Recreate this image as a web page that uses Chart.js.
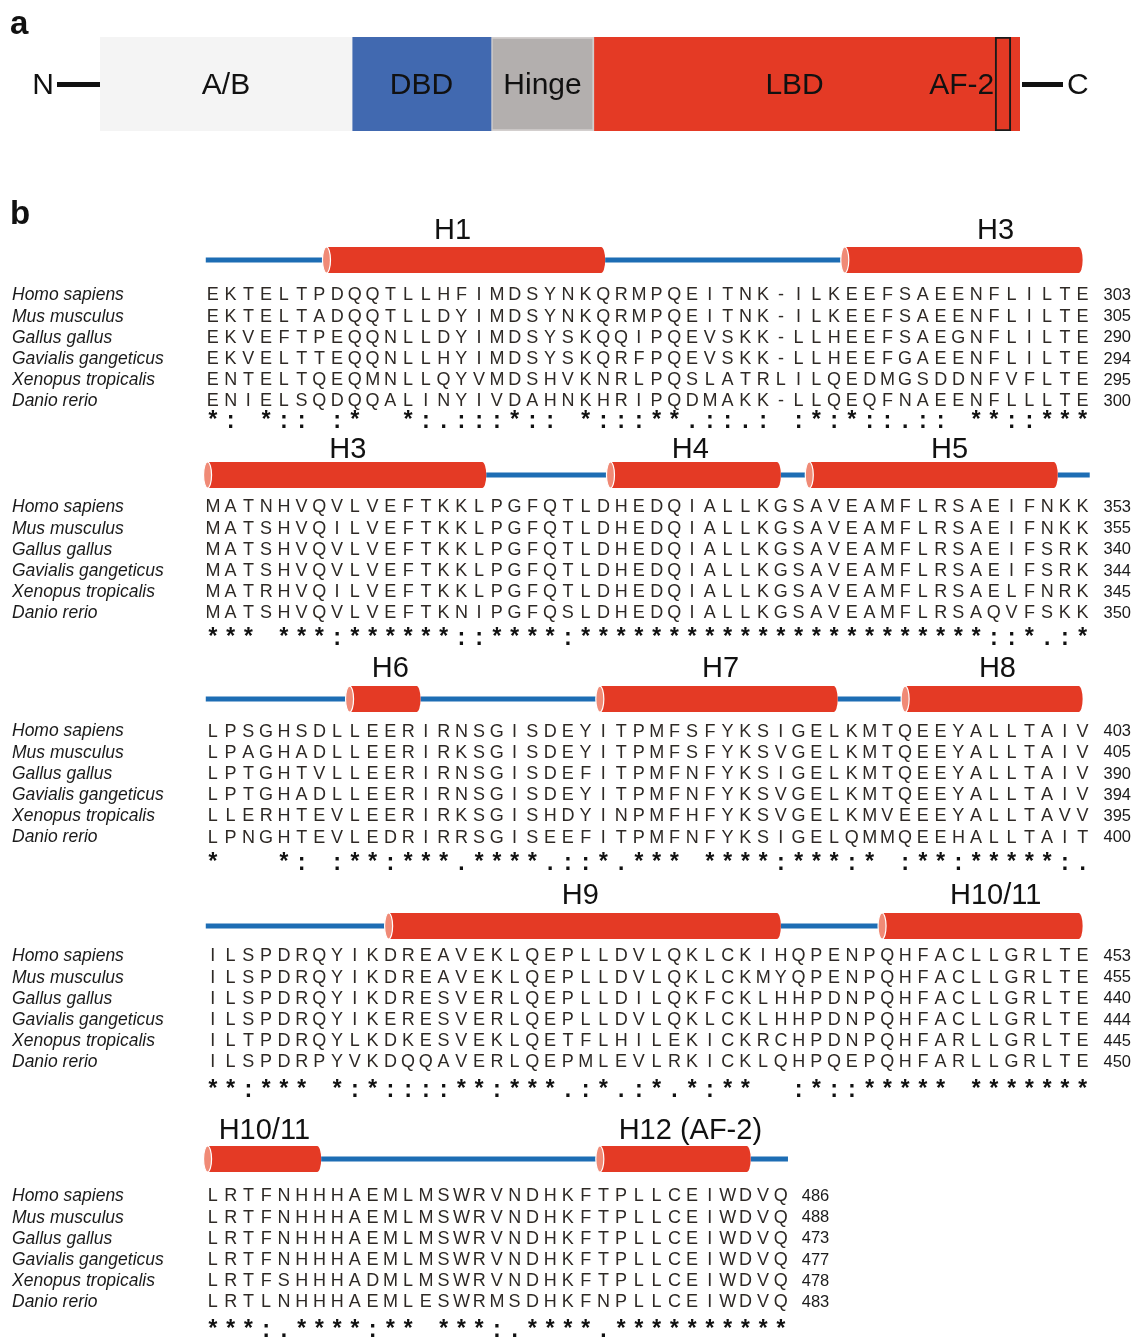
<!DOCTYPE html>
<html><head><meta charset="utf-8">
<script src="https://cdn.jsdelivr.net/npm/chart.js@4.4.1/dist/chart.umd.min.js"></script>
<style>
html,body{margin:0;padding:0;background:#fff;}
#wrap{position:relative;width:1134px;height:1337px;overflow:hidden;background:#fff;}
#ca{position:absolute;left:0;top:0;}
#cb{position:absolute;left:0;top:160px;}
</style></head><body>
<div id="wrap"><canvas id="ca" width="1134" height="160"></canvas><canvas id="cb" width="1134" height="1177"></canvas></div>
<script>
// ---------------- DATA ----------------
// Panel a: domain architecture (arbitrary 0-100 units along the protein)
const domainNames = ['A/B', 'DBD', 'Hinge', 'LBD', 'AF-2'];
const domainStart = [0, 27.4, 42.5, 53.7, 97.3];
const domainEnd   = [27.4, 42.5, 53.7, 100, 99.0];

// Panel b: alignment
const species = ['Homo sapiens', 'Mus musculus', 'Gallus gallus', 'Gavialis gangeticus', 'Xenopus tropicalis', 'Danio rerio'];

const seqBlock1 = [
  'EKTELTPDQQTLLHFIMDSYNKQRMPQEITNK-ILKEEFSAEENFLILTE',
  'EKTELTADQQTLLDYIMDSYNKQRMPQEITNK-ILKEEFSAEENFLILTE',
  'EKVEFTPEQQNLLDYIMDSYSKQQIPQEVSKK-LLHEEFSAEGNFLILTE',
  'EKVELTTEQQNLLHYIMDSYSKQRFPQEVSKK-LLHEEFGAEENFLILTE',
  'ENTELTQEQMNLLQYVMDSHVKNRLPQSLATRLILQEDMGSDDNFVFLTE',
  'ENIELSQDQQALINYIVDAHNKHRIPQDMAKK-LLQEQFNAEENFLLLTE'];
const seqBlock2 = [
  'MATNHVQVLVEFTKKLPGFQTLDHEDQIALLKGSAVEAMFLRSAEIFNKK',
  'MATSHVQILVEFTKKLPGFQTLDHEDQIALLKGSAVEAMFLRSAEIFNKK',
  'MATSHVQVLVEFTKKLPGFQTLDHEDQIALLKGSAVEAMFLRSAEIFSRK',
  'MATSHVQVLVEFTKKLPGFQTLDHEDQIALLKGSAVEAMFLRSAEIFSRK',
  'MATRHVQILVEFTKKLPGFQTLDHEDQIALLKGSAVEAMFLRSAELFNRK',
  'MATSHVQVLVEFTKNIPGFQSLDHEDQIALLKGSAVEAMFLRSAQVFSKK'];
const seqBlock3 = [
  'LPSGHSDLLEERIRNSGISDEYITPMFSFYKSIGELKMTQEEYALLTAIV',
  'LPAGHADLLEERIRKSGISDEYITPMFSFYKSVGELKMTQEEYALLTAIV',
  'LPTGHTVLLEERIRNSGISDEFITPMFNFYKSIGELKMTQEEYALLTAIV',
  'LPTGHADLLEERIRNSGISDEYITPMFNFYKSVGELKMTQEEYALLTAIV',
  'LLERHTEVLEERIRKSGISHDYINPMFHFYKSVGELKMVEEEYALLTAVV',
  'LPNGHTEVLEDRIRRSGISEEFITPMFNFYKSIGELQMMQEEHALLTAIT'];
const seqBlock4 = [
  'ILSPDRQYIKDREAVEKLQEPLLDVLQKLCKIHQPENPQHFACLLGRLTE',
  'ILSPDRQYIKDREAVEKLQEPLLDVLQKLCKMYQPENPQHFACLLGRLTE',
  'ILSPDRQYIKDRESVERLQEPLLDILQKFCKLHHPDNPQHFACLLGRLTE',
  'ILSPDRQYIKERESVERLQEPLLDVLQKLCKLHHPDNPQHFACLLGRLTE',
  'ILTPDRQYLKDKESVEKLQETFLHILEKICKRCHPDNPQHFARLLGRLTE',
  'ILSPDRPYVKDQQAVERLQEPMLEVLRKICKLQHPQEPQHFARLLGRLTE'];
const seqBlock5 = [
  'LRTFNHHHAEMLMSWRVNDHKFTPLLCEIWDVQ',
  'LRTFNHHHAEMLMSWRVNDHKFTPLLCEIWDVQ',
  'LRTFNHHHAEMLMSWRVNDHKFTPLLCEIWDVQ',
  'LRTFNHHHAEMLMSWRVNDHKFTPLLCEIWDVQ',
  'LRTFSHHHADMLMSWRVNDHKFTPLLCEIWDVQ',
  'LRTLNHHHAEMLESWRMSDHKFNPLLCEIWDVQ'];

const endBlock1 = [303, 305, 290, 294, 295, 300];
const endBlock2 = [353, 355, 340, 344, 345, 350];
const endBlock3 = [403, 405, 390, 394, 395, 400];
const endBlock4 = [453, 455, 440, 444, 445, 450];
const endBlock5 = [486, 488, 473, 477, 478, 483];

const consBlock1 = '*: *:: :*  *:.:::*:: *:::**.::.: :*:*::.:: **::***';
const consBlock2 = '*** ***:******::****:***********************::*.:*';
const consBlock3 = '*   *: :**:***.****.::*.*** ****:***:* :**:*****:.';
const consBlock4 = '**:*** *:*::::**:***.:*.:*.*:**  :*::***** *******';
const consBlock5 = '***:.****:** ***:.****.**********';

// secondary structure, in alignment columns (0 = left edge of first column)
const helixBlock1 = [['H1', 6.9, 22.6], ['H3', 36.1, 49.5]];
const helixBlock2 = [['H3', 0.2, 15.9], ['H4', 22.9, 32.5], ['H5', 34.1, 48.1]];
const helixBlock3 = [['H6', 8.2, 12.2], ['H7', 22.3, 35.7], ['H8', 39.5, 49.5]];
const helixBlock4 = [['H9', 10.4, 32.5], ['H10/11', 38.2, 49.5]];
const helixBlock5 = [['H10/11', 0.2, 6.6], ['H12 (AF-2)', 22.3, 30.8]];

const loopBlock1 = [[0.1, 7.0], [22.6, 36.1]];
const loopBlock2 = [[15.9, 22.9], [32.5, 34.1], [48.1, 49.9]];
const loopBlock3 = [[0.1, 8.2], [12.2, 22.3], [35.7, 39.5]];
const loopBlock4 = [[0.1, 10.4], [32.5, 38.2]];
const loopBlock5 = [[6.6, 22.3], [30.8, 32.9]];

// ---------------- LAYOUT / STYLE ----------------
const SEQS = [seqBlock1, seqBlock2, seqBlock3, seqBlock4, seqBlock5];
const ENDS = [endBlock1, endBlock2, endBlock3, endBlock4, endBlock5];
const CONS = [consBlock1, consBlock2, consBlock3, consBlock4, consBlock5];
const HELICES = [helixBlock1, helixBlock2, helixBlock3, helixBlock4, helixBlock5];
const LOOPS = [loopBlock1, loopBlock2, loopBlock3, loopBlock4, loopBlock5];

const L = {
  rowPx: 21.2,
  blockTop: [0, 10.0, 20.57, 31.18, 42.5],
  helixDy: [-34, -31, -31, -29, -36],
  labelDy: [-64, -57, -62, -60, -65],
  consDy: [122, 127, 128, 130, 130],
  labelX: [[14.0, 44.6], [8.1, 27.4, 42.0], [10.5, 29.1, 44.7], [21.2, 44.6], [3.4, 27.4]]
};
const RED = '#e43a25';
const BLUE = '#1d6db4';
const domainFill = ['#f4f4f4', '#4169b0', '#b3afae', RED, RED];
const domainBorder = ['#f4f4f4', '#4169b0', '#d3cfce', RED, '#1a1a1a'];
const domainBorderW = [0, 0, 2, 0, 2];

// ---------------- PANEL A ----------------
const pluginA = {
  id: 'pa',
  afterDatasetsDraw(chart) {
    const ctx = chart.ctx, xs = chart.scales.x, ys = chart.scales.y;
    const yc = ys.getPixelForValue(0);
    ctx.save();
    ctx.fillStyle = '#111';
    ctx.textBaseline = 'middle';
    ctx.font = '30px "Liberation Sans", Arial, sans-serif';
    ctx.textAlign = 'center';
    for (let i = 0; i < 3; i++) {
      const cx = (xs.getPixelForValue(domainStart[i]) + xs.getPixelForValue(domainEnd[i])) / 2;
      ctx.fillText(domainNames[i], cx, yc + 2);
    }
    const lbdC = (xs.getPixelForValue(domainStart[3]) + xs.getPixelForValue(domainStart[4])) / 2;
    ctx.fillText(domainNames[3], lbdC, yc + 2);
    ctx.textAlign = 'right';
    ctx.fillText(domainNames[4], xs.getPixelForValue(domainStart[4]) - 1, yc + 2);
    // termini
    const x0 = xs.getPixelForValue(0), x1 = xs.getPixelForValue(100);
    ctx.fillStyle = '#111';
    ctx.fillRect(x0 - 43, yc - 2, 43, 5);
    ctx.fillRect(x1 + 2, yc - 2, 41, 5);
    ctx.textAlign = 'right';
    ctx.fillText('N', x0 - 46, yc + 2);
    ctx.textAlign = 'left';
    ctx.fillText('C', x1 + 47, yc + 2);
    ctx.font = 'bold 33px "Liberation Sans", Arial, sans-serif';
    ctx.textBaseline = 'alphabetic';
    ctx.fillText('a', 10, 34);
    ctx.restore();
  }
};

const dsA = domainNames.map((n, i) => ({
  label: n,
  data: [[domainStart[i], domainEnd[i]]],
  backgroundColor: domainFill[i],
  borderColor: domainBorder[i],
  borderWidth: domainBorderW[i],
  borderSkipped: false,
  barThickness: 94,
  grouped: false,
  order: i === 4 ? -1 : 0
}));

new Chart(document.getElementById('ca'), {
  type: 'bar',
  data: { labels: ['FXR'], datasets: dsA },
  options: {
    indexAxis: 'y', responsive: false, animation: false, events: [],
    layout: { padding: { left: 100, right: 114, top: 37, bottom: 29 } },
    plugins: { legend: { display: false }, tooltip: { enabled: false } },
    scales: {
      x: { type: 'linear', min: 0, max: 100, display: false },
      y: { type: 'category', display: false }
    }
  },
  plugins: [pluginA]
});

// ---------------- PANEL B ----------------
const dsB = [];
LOOPS.forEach((loops, b) => {
  const yv = L.blockTop[b] + L.helixDy[b] / L.rowPx;
  loops.forEach(([s, e]) => {
    dsB.push({ kind: 'loop', data: [{ x: s, y: yv }, { x: e, y: yv }], showLine: true,
      borderColor: BLUE, borderWidth: 5, pointRadius: 0, borderCapStyle: 'butt', fill: false });
  });
});
SEQS.forEach((rows, b) => {
  rows.forEach((str, r) => {
    dsB.push({ kind: 'seq', block: b, row: r,
      data: [...str].map((ch, c) => ({ x: c + 0.5, y: L.blockTop[b] + r, ch })),
      pointRadius: 0, showLine: false });
  });
  dsB.push({ kind: 'cons', block: b,
    data: [...CONS[b]].map((ch, c) => ({ x: c + 0.5, y: L.blockTop[b] + L.consDy[b] / L.rowPx, ch })),
    pointRadius: 0, showLine: false });
});

function drawCylinder(ctx, x1, x2, yc, h) {
  const r = h / 2, cw = 4;
  ctx.save();
  ctx.fillStyle = RED;
  ctx.beginPath();
  ctx.moveTo(x1, yc - r);
  ctx.lineTo(x2 - cw, yc - r);
  ctx.ellipse(x2 - cw, yc, cw, r, 0, -Math.PI / 2, Math.PI / 2);
  ctx.lineTo(x1, yc + r);
  ctx.closePath();
  ctx.fill();
  ctx.beginPath();
  ctx.ellipse(x1, yc, cw, r, 0, 0, Math.PI * 2);
  ctx.fillStyle = '#f08a76';
  ctx.fill();
  ctx.strokeStyle = '#ffffff';
  ctx.lineWidth = 1.2;
  ctx.stroke();
  ctx.restore();
}

const pluginB = {
  id: 'pb',
  afterDatasetsDraw(chart) {
    const ctx = chart.ctx, xs = chart.scales.x, ys = chart.scales.y;
    ctx.save();
    // helices + labels
    HELICES.forEach((hs, b) => {
      const yc = ys.getPixelForValue(L.blockTop[b] + L.helixDy[b] / L.rowPx);
      const yl = ys.getPixelForValue(L.blockTop[b] + L.labelDy[b] / L.rowPx);
      hs.forEach(([name, s, e], k) => {
        drawCylinder(ctx, xs.getPixelForValue(s), xs.getPixelForValue(e), yc, 26);
        ctx.fillStyle = '#111';
        ctx.font = '29px "Liberation Sans", Arial, sans-serif';
        ctx.textAlign = 'center';
        ctx.textBaseline = 'middle';
        ctx.fillText(name, xs.getPixelForValue(L.labelX[b][k]), yl + 1);
      });
    });
    // sequences, conservation
    chart.data.datasets.forEach((ds, i) => {
      if (ds.kind !== 'seq' && ds.kind !== 'cons') return;
      const meta = chart.getDatasetMeta(i);
      if (ds.kind === 'seq') {
        ctx.font = '18px "Liberation Sans", Arial, sans-serif';
        ctx.fillStyle = '#2e2925';
        ctx.textAlign = 'center';
        ctx.textBaseline = 'middle';
        meta.data.forEach((el, j) => ctx.fillText(ds.data[j].ch, el.x, el.y + 1.5));
        const yRow = meta.data[0].y + 1.5;
        ctx.font = 'italic 17.5px "Liberation Sans", Arial, sans-serif';
        ctx.fillStyle = '#1a1a1a';
        ctx.textAlign = 'left';
        ctx.fillText(species[ds.row], 12, yRow);
        ctx.font = '16.5px "Liberation Sans", Arial, sans-serif';
        ctx.fillText(String(ENDS[ds.block][ds.row]), xs.getPixelForValue(ds.data.length) + 12, yRow);
      } else {
        ctx.font = 'bold 23px "Liberation Mono", "Courier New", monospace';
        ctx.fillStyle = '#111';
        ctx.textAlign = 'center';
        ctx.textBaseline = 'alphabetic';
        meta.data.forEach((el, j) => { if (ds.data[j].ch !== ' ') ctx.fillText(ds.data[j].ch, el.x, el.y + 12); });
      }
    });
    ctx.fillStyle = '#111';
    ctx.font = 'bold 33px "Liberation Sans", Arial, sans-serif';
    ctx.textAlign = 'left';
    ctx.textBaseline = 'alphabetic';
    ctx.fillText('b', 10, 64);
    ctx.restore();
  }
};

const yMin = -134 / L.rowPx;
new Chart(document.getElementById('cb'), {
  type: 'scatter',
  data: { datasets: dsB },
  options: {
    responsive: false, animation: false, events: [],
    layout: { padding: { left: 204, right: 42.5, top: 0, bottom: 0 } },
    plugins: { legend: { display: false }, tooltip: { enabled: false } },
    scales: {
      x: { type: 'linear', min: 0, max: 50, display: false },
      y: { type: 'linear', min: yMin, max: yMin + 1177 / L.rowPx, reverse: true, display: false }
    }
  },
  plugins: [pluginB]
});
</script>
</body></html>
